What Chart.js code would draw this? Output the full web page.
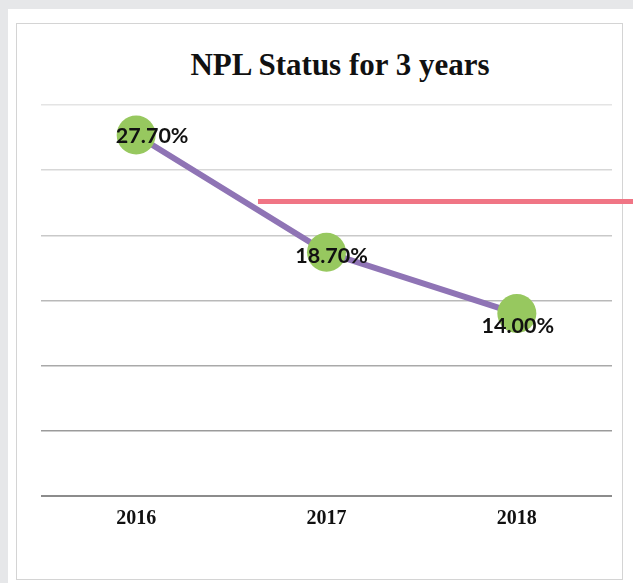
<!DOCTYPE html>
<html>
<head>
<meta charset="utf-8">
<script src="https://cdn.jsdelivr.net/npm/chart.js@4.4.1/dist/chart.umd.min.js"></script>
<style>
  html, body { margin:0; padding:0; background:#e6e7e9; }
  #wrap { position:relative; width:633px; height:583px; overflow:hidden; }
  #paper { position:absolute; left:8px; top:9px; right:0; bottom:0; background:#fff; }
  #frame { position:absolute; left:16px; top:23px; width:607px; height:557px; border:1.5px solid #d4d4d4; box-sizing:border-box; }
  #title { position:absolute; left:0; width:680px; top:47px; text-align:center;
           font:bold 31px "Liberation Serif", "DejaVu Serif", serif; color:#111; }
  #chartNpl { position:absolute; left:0; top:0; }
</style>
</head>
<body>
<div id="wrap">
  <div id="paper"></div>
  <div id="frame"></div>
  <div id="title">NPL Status for 3 years</div>
  <canvas id="chartNpl" width="633" height="583"></canvas>
</div>
<script>
const years = ['2016', '2017', '2018'];
const nplRate = [27.7, 18.7, 14.0];
const refLevel = 22.6;          // horizontal marker line
const refFrom = 0.64, refTo = 2.62;

// where each value label sits relative to its point
const labelShift = [[16, 1], [5, 4], [1, 13]];
// grid gets darker toward the baseline
const gridShades = ['#8c8c8c', '#9b9b9b', '#a9a9a9', '#b9b9b9', '#c9c9c9', '#d7d7d7', '#e4e4e4'];

const valueLabels = {
  id: 'valueLabels',
  afterDatasetsDraw(chart){
    const meta = chart.getDatasetMeta(1);
    const c = chart.ctx;
    c.save();
    c.font = 'bold 21.5px Lato, "Open Sans", sans-serif';
    c.fillStyle = '#111';
    c.textAlign = 'center';
    c.textBaseline = 'middle';
    meta.data.forEach((pt, i)=>{
      c.fillText(nplRate[i].toFixed(2) + '%', pt.x + labelShift[i][0], pt.y + labelShift[i][1]);
    });
    c.restore();
  }
};

new Chart(document.getElementById('chartNpl'), {
  type: 'line',
  data: {
    datasets: [
      {
        label: 'ref',
        data: [{x: refFrom, y: refLevel}, {x: refTo, y: refLevel}],
        borderColor: '#f07585',
        borderWidth: 5,
        pointRadius: 0,
        clip: false,
        order: 2
      },
      {
        label: 'NPL',
        data: nplRate.map((v, i)=>({x: i, y: v})),
        borderColor: '#8f74b5',
        borderWidth: 6,
        pointRadius: 19.5,
        pointHoverRadius: 19.5,
        pointBackgroundColor: '#97c85f',
        pointBorderWidth: 0,
        order: 1
      }
    ]
  },
  options: {
    responsive: false,
    animation: false,
    layout: { padding: { left: 41, right: 21, top: 105, bottom: 49 } },
    plugins: { legend: { display: false }, tooltip: { enabled: false } },
    scales: {
      x: {
        type: 'linear',
        min: -0.5,
        max: 2.5,
        afterBuildTicks: (scale)=>{ scale.ticks = years.map((_, i)=>({ value: i })); },
        grid: { display: false },
        border: { display: false },
        ticks: {
          callback: (v)=>years[v],
          padding: 3,
          color: '#111',
          font: { family: '"Liberation Serif", "DejaVu Serif", serif', size: 20, weight: 'bold' }
        }
      },
      y: {
        min: 0,
        max: 30,
        ticks: { stepSize: 5, display: false },
        border: { display: false },
        grid: {
          drawTicks: false,
          lineWidth: (ctx)=> ctx.index === 0 ? 2 : 1.6,
          color: (ctx)=> gridShades[ctx.index] || '#ddd'
        }
      }
    }
  },
  plugins: [valueLabels]
});
</script>
</body>
</html>
